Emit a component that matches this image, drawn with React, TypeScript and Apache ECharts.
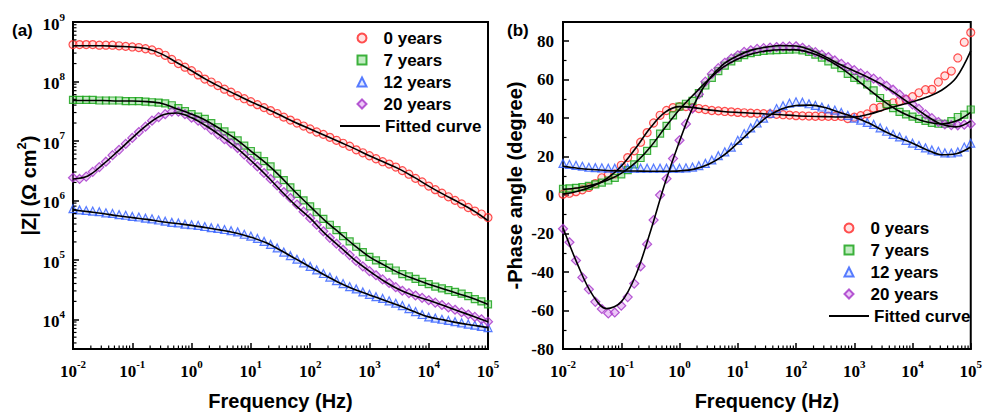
import React, { useEffect, useRef } from 'react';
import * as echarts from 'echarts';

// ---------- data ----------
const freq = [
  0.01, 0.0129, 0.0167, 0.0215, 0.0278, 0.0359, 0.0464, 0.0599, 0.0774,
  0.1, 0.129, 0.167, 0.215, 0.278, 0.359, 0.464, 0.599, 0.774,
  1, 1.29, 1.67, 2.15, 2.78, 3.59, 4.64, 5.99, 7.74,
  10, 12.9, 16.7, 21.5, 27.8, 35.9, 46.4, 59.9, 77.4,
  100, 129, 167, 215, 278, 359, 464, 599, 774,
  1000, 1290, 1670, 2150, 2780, 3590, 4640, 5990, 7740,
  10000, 12900, 16700, 21500, 27800, 35900, 46400, 59900, 77400,
  100000,
];
const fitFreq = [
  0.01, 0.0178, 0.0316, 0.0562, 0.1, 0.178, 0.316, 0.562, 1, 1.78, 3.16, 5.62,
  10, 17.8, 31.6, 56.2, 100, 178, 316, 562, 1000, 1780, 3160, 5620,
  10000, 17800, 31600, 56200, 100000,
];

const names = ['0 years', '7 years', '12 years', '20 years'];
const fitName = 'Fitted curve';

// log10 |Z| (Ω cm²), measured points
const logZ0 = [
  8.62, 8.62, 8.62, 8.62, 8.61, 8.61, 8.61, 8.60, 8.59,
  8.58, 8.57, 8.55, 8.53, 8.49, 8.44, 8.37, 8.30, 8.24,
  8.18, 8.11, 8.04, 7.99, 7.93, 7.87, 7.82, 7.76, 7.71,
  7.66, 7.61, 7.56, 7.51, 7.46, 7.40, 7.35, 7.30, 7.25,
  7.20, 7.15, 7.11, 7.06, 7.01, 6.96, 6.91, 6.85, 6.80,
  6.75, 6.70, 6.65, 6.61, 6.56, 6.50, 6.44, 6.37, 6.31,
  6.24, 6.18, 6.12, 6.06, 6.00, 5.94, 5.88, 5.82, 5.77,
  5.71,
];
const logZ7 = [
  7.69, 7.69, 7.69, 7.69, 7.68, 7.68, 7.68, 7.68, 7.67,
  7.67, 7.67, 7.66, 7.65, 7.645, 7.63, 7.60, 7.55, 7.50,
  7.45, 7.41, 7.37, 7.30, 7.23, 7.16, 7.09, 7.01, 6.92,
  6.83, 6.75, 6.66, 6.57, 6.45, 6.34, 6.22, 6.11, 6.00,
  5.90, 5.80, 5.69, 5.59, 5.50, 5.40, 5.31, 5.22, 5.13,
  5.05, 4.99, 4.93, 4.87, 4.82, 4.76, 4.72, 4.68, 4.63,
  4.59, 4.55, 4.52, 4.49, 4.46, 4.43, 4.39, 4.34, 4.30,
  4.25,
];
const logZ12 = [
  5.86, 5.84, 5.83, 5.82, 5.81, 5.79, 5.78, 5.76, 5.75,
  5.73, 5.72, 5.70, 5.69, 5.67, 5.65, 5.63, 5.62, 5.60,
  5.59, 5.58, 5.56, 5.54, 5.53, 5.51, 5.49, 5.47, 5.43,
  5.40, 5.36, 5.31, 5.26, 5.20, 5.13, 5.07, 5.01, 4.95,
  4.89, 4.83, 4.77, 4.71, 4.65, 4.60, 4.55, 4.51, 4.46,
  4.42, 4.38, 4.35, 4.31, 4.27, 4.23, 4.18, 4.13, 4.08,
  4.04, 4.02, 4.00, 3.98, 3.96, 3.94, 3.92, 3.90, 3.88,
  3.86,
];
const logZ20 = [
  6.38, 6.36, 6.40, 6.48, 6.56, 6.65, 6.76, 6.85, 6.95,
  7.05, 7.15, 7.24, 7.34, 7.40, 7.45, 7.49, 7.49, 7.45,
  7.39, 7.34, 7.27, 7.19, 7.11, 7.03, 6.96, 6.88, 6.77,
  6.67, 6.57, 6.46, 6.36, 6.25, 6.14, 6.04, 5.93, 5.81,
  5.70, 5.59, 5.48, 5.37, 5.27, 5.17, 5.08, 4.98, 4.89,
  4.81, 4.74, 4.67, 4.61, 4.54, 4.48, 4.44, 4.40, 4.36,
  4.32, 4.28, 4.24, 4.20, 4.16, 4.12, 4.08, 4.04, 4.00,
  3.96,
];

// -phase angle (degree), measured points
const phase0 = [
  0.5, 1.0, 1.8, 2.8, 4.0, 6.0, 9.0, 10.5, 11.0,
  15.5, 19.5, 23.0, 27.5, 32.5, 37.5, 41.5, 44.0, 45.5,
  46.0, 46.0, 45.5, 45.0, 44.5, 44.0, 43.8, 43.5, 43.3,
  43.0, 42.8, 42.6, 42.5, 42.3, 42.2, 42.0, 41.8, 41.6,
  41.3, 41.2, 41.1, 41.0, 41.0, 41.0, 40.9, 41.0, 39.8,
  40.5, 41.3, 42.2, 45.2, 45.7, 47.0, 48.0, 48.9, 49.7,
  51.2, 53.2, 54.8, 55.0, 58.8, 62.0, 64.5, 71.3, 79.5,
  84.5,
];
const phase7 = [
  3.3, 3.5, 3.8, 4.2, 4.8, 5.6, 6.5, 7.6, 9.0,
  10.8, 13.0, 16.0, 19.3, 23.0, 27.0, 32.0, 36.0, 41.5,
  46.0, 47.5, 49.0, 53.0, 57.0, 61.0, 64.5, 67.3, 69.5,
  71.5, 72.8, 73.8, 74.5, 75.0, 75.2, 75.4, 75.5, 75.6,
  75.7, 75.3, 74.5, 73.0, 71.5, 69.5, 67.8, 66.0, 63.0,
  61.0, 59.8, 57.5, 54.5, 50.5, 47.3, 45.2, 43.3, 42.0,
  40.8, 39.6, 38.6, 37.6, 37.1, 37.1, 38.5, 40.6, 41.8,
  44.5,
];
const phase12 = [
  16.5, 16.0, 15.5, 15.0, 14.5, 14.3, 14.2, 14.0, 14.0,
  14.0, 14.0, 14.0, 14.0, 14.0, 14.0, 14.0, 14.0, 14.0,
  14.0, 14.2, 14.6, 15.3, 16.5, 18.3, 20.5, 22.5, 25.0,
  28.5, 32.0, 35.0, 37.5, 40.0, 42.5, 45.0, 46.5, 47.8,
  48.5, 48.3, 47.5, 46.7, 45.8, 44.8, 44.2, 43.0, 41.5,
  40.0, 39.0, 37.8, 36.8, 35.0, 33.2, 31.6, 30.3, 28.5,
  27.0, 25.8, 24.6, 23.5, 22.8, 22.0, 21.9, 22.5, 25.0,
  27.0,
];
const phase20 = [
  -17.5, -24.5, -34.0, -42.8, -49.0, -55.5, -59.2, -61.5, -61.0,
  -57.5, -53.0, -46.0, -37.0, -25.5, -13.0, 0.0, 8.5, 19.0,
  28.5, 37.0, 45.0, 52.5, 59.0, 63.0, 66.0, 68.8, 71.0,
  72.7, 74.5, 75.3, 76.0, 76.4, 76.7, 77.0, 77.2, 77.3,
  77.4, 76.6, 75.5, 74.3, 73.0, 71.8, 70.0, 68.3, 66.6,
  65.0, 63.3, 62.0, 60.6, 59.0, 56.8, 54.8, 52.3, 49.8,
  47.2, 44.8, 42.0, 40.0, 38.0, 36.8, 36.4, 36.3, 36.6,
  37.0,
];

// fitted curves
const fitLogZ0 = [8.60, 8.60, 8.60, 8.59, 8.58, 8.55, 8.46, 8.32, 8.18, 8.03, 7.90, 7.78, 7.66, 7.55, 7.43, 7.31, 7.20, 7.09, 6.98, 6.87, 6.75, 6.64, 6.53, 6.39, 6.24, 6.10, 5.97, 5.83, 5.66];
const fitLogZ7 = [7.68, 7.68, 7.68, 7.67, 7.67, 7.66, 7.63, 7.54, 7.45, 7.34, 7.19, 7.03, 6.83, 6.63, 6.40, 6.14, 5.90, 5.66, 5.45, 5.24, 5.05, 4.91, 4.78, 4.68, 4.59, 4.51, 4.43, 4.35, 4.25];
const fitLogZ12 = [5.84, 5.81, 5.78, 5.74, 5.71, 5.68, 5.64, 5.61, 5.58, 5.54, 5.50, 5.45, 5.38, 5.29, 5.16, 5.02, 4.88, 4.74, 4.61, 4.50, 4.41, 4.32, 4.23, 4.13, 4.04, 3.99, 3.94, 3.90, 3.86];
const fitLogZ20 = [6.36, 6.41, 6.60, 6.82, 7.05, 7.27, 7.43, 7.47, 7.39, 7.25, 7.08, 6.89, 6.67, 6.43, 6.17, 5.92, 5.70, 5.44, 5.22, 5.00, 4.81, 4.64, 4.50, 4.40, 4.32, 4.23, 4.14, 4.05, 3.96];

const fitPhase0 = [0.5, 2.0, 4.5, 8.5, 15.0, 24.5, 35.0, 43.0, 46.0, 45.5, 44.3, 43.5, 43.0, 42.6, 42.2, 41.8, 41.3, 41.0, 40.8, 40.6, 40.6, 42.0, 44.3, 46.5, 48.5, 51.0, 54.5, 61.0, 75.0];
const fitPhase7 = [3.0, 3.7, 5.2, 7.6, 11.3, 17.0, 25.0, 35.0, 44.5, 52.5, 60.0, 66.5, 70.8, 73.5, 75.0, 75.6, 75.5, 74.0, 71.0, 66.5, 61.0, 55.0, 49.0, 44.0, 40.5, 38.0, 37.0, 38.5, 43.0];
const fitPhase12 = [15.0, 14.0, 13.3, 12.8, 12.6, 12.5, 12.4, 12.4, 12.6, 13.5, 16.0, 20.5, 27.0, 34.0, 40.5, 44.8, 46.6, 46.8, 45.5, 43.0, 40.5, 37.5, 33.5, 30.0, 27.0, 23.5, 21.0, 21.5, 25.0];
const fitPhase20 = [-17.0, -36.0, -51.5, -59.0, -55.5, -41.5, -19.0, 6.0, 28.0, 47.0, 60.0, 68.0, 72.5, 75.5, 77.0, 77.8, 77.5, 75.5, 72.0, 68.0, 64.5, 61.0, 57.0, 52.0, 46.5, 41.0, 36.8, 35.5, 38.5];

// axis ranges
const F_MIN = 0.01;
const F_MAX = 100000;
const Z_MIN = Math.pow(10, 3.5);
const Z_MAX = 1e9;
const P_MIN = -80;
const P_MAX = 90;

// ---------- styling ----------
const markerStyles = [
  { symbol: 'circle', size: 8, fill: 'rgba(255,150,150,0.35)', stroke: '#ff2424' },
  { symbol: 'rect', size: 7, fill: 'rgba(90,200,90,0.45)', stroke: '#12a012' },
  { symbol: 'triangle', size: 8, fill: 'rgba(130,160,255,0.3)', stroke: '#2f5cff' },
  { symbol: 'diamond', size: 9, fill: 'rgba(210,120,235,0.5)', stroke: '#a431c8' },
];

const SERIF = '"Liberation Serif", "Times New Roman", serif';
const SANS = '"Liberation Sans", Arial, sans-serif';

const tickRich = {
  b: { fontFamily: SERIF, fontWeight: 'bold', fontSize: 17, color: '#000', lineHeight: 22, verticalAlign: 'bottom' },
  s: { fontFamily: SERIF, fontWeight: 'bold', fontSize: 11, color: '#000', lineHeight: 10, verticalAlign: 'top' },
};

const powLabel = (v: number) => {
  const lg = Math.log10(v);
  const e = Math.round(lg);
  if (Math.abs(lg - e) > 1e-6) return '';
  return `{b|10}{s|${e}}`;
};

const minorMantissas = [2, 3, 4, 5, 6, 7, 8, 9];
const decadesX = [-2, -1, 0, 1, 2, 3, 4];
const decadesZ = [3, 4, 5, 6, 7, 8];

function buildOption() {
  const minorXTicks = decadesX.flatMap((d) => minorMantissas.map((m) => m * Math.pow(10, d)));
  const minorZTicks = decadesZ
    .flatMap((d) => minorMantissas.map((m) => m * Math.pow(10, d)))
    .filter((v) => v > Z_MIN && v < Z_MAX);

  const logZ = [logZ0, logZ7, logZ12, logZ20];
  const fitLogZ = [fitLogZ0, fitLogZ7, fitLogZ12, fitLogZ20];
  const phase = [phase0, phase7, phase12, phase20];
  const fitPhase = [fitPhase0, fitPhase7, fitPhase12, fitPhase20];

  const series: any[] = [];
  names.forEach((name, i) => {
    const st = markerStyles[i];
    const common = {
      type: 'scatter',
      name,
      symbol: st.symbol,
      symbolSize: st.size,
      symbolKeepAspect: true,
      itemStyle: { color: st.fill, borderColor: st.stroke, borderWidth: 1.2 },
      z: 2,
      silent: true,
    };
    series.push({ ...common, xAxisIndex: 0, yAxisIndex: 0, data: freq.map((f, k) => [f, Math.pow(10, logZ[i][k])]) });
    series.push({ ...common, xAxisIndex: 1, yAxisIndex: 1, data: freq.map((f, k) => [f, phase[i][k]]) });
  });
  names.forEach((_, i) => {
    const common = {
      type: 'line',
      name: fitName,
      symbol: 'none',
      showSymbol: false,
      smooth: 0.35,
      lineStyle: { color: '#000', width: 1.6 },
      itemStyle: { color: '#000' },
      z: 3,
      silent: true,
    };
    series.push({ ...common, xAxisIndex: 0, yAxisIndex: 0, data: fitFreq.map((f, k) => [f, Math.pow(10, fitLogZ[i][k])]) });
    series.push({ ...common, xAxisIndex: 1, yAxisIndex: 1, data: fitFreq.map((f, k) => [f, fitPhase[i][k]]) });
  });

  const tickLine = (x1: number, y1: number, x2: number, y2: number) => ({
    type: 'line',
    shape: { x1, y1, x2, y2 },
    style: { stroke: '#000', lineWidth: 1.2 },
  });

  // log minor ticks, bottom axes
  [0, 1].forEach((g) => {
    const yBase = g === 0 ? Z_MIN : P_MIN;
    series.push({
      type: 'custom',
      xAxisIndex: g,
      yAxisIndex: g,
      silent: true,
      clip: false,
      z: 5,
      data: minorXTicks.map((v) => [v, yBase]),
      renderItem: (_p: any, api: any) => {
        const p = api.coord([api.value(0), api.value(1)]);
        return tickLine(p[0], p[1], p[0], p[1] - 3.5);
      },
    });
  });
  // log minor ticks, left |Z| axis
  series.push({
    type: 'custom',
    xAxisIndex: 0,
    yAxisIndex: 0,
    silent: true,
    clip: false,
    z: 5,
    data: minorZTicks.map((v) => [F_MIN, v]),
    renderItem: (_p: any, api: any) => {
      const p = api.coord([api.value(0), api.value(1)]);
      return tickLine(p[0], p[1], p[0] + 3.5, p[1]);
    },
  });

  const axisLine = { show: true, onZero: false, lineStyle: { color: '#000', width: 2 } };
  const axisTick = { show: true, inside: true, length: 6, lineStyle: { color: '#000', width: 1.5 } };
  const titleStyle = { fontFamily: SANS, fontWeight: 'bold', fontSize: 20, color: '#000' };

  const xAxis = [0, 1].map((g) => ({
    type: 'log',
    logBase: 10,
    gridIndex: g,
    min: F_MIN,
    max: F_MAX,
    splitNumber: 7,
    axisLine,
    axisTick,
    splitLine: { show: false },
    axisLabel: { formatter: powLabel, rich: tickRich, margin: 9, showMinLabel: true, showMaxLabel: true },
    name: 'Frequency (Hz)',
    nameLocation: 'middle',
    nameGap: 42,
    nameTextStyle: titleStyle,
  }));

  const yAxis = [
    {
      type: 'log',
      logBase: 10,
      gridIndex: 0,
      min: Z_MIN,
      max: Z_MAX,
      splitNumber: 6,
      axisLine,
      axisTick,
      splitLine: { show: false },
      axisLabel: { formatter: powLabel, rich: tickRich, margin: 8, showMinLabel: true, showMaxLabel: true },
      name: '{t||Z| (Ω cm}{sup|2}{t|)}',
      nameLocation: 'middle',
      nameGap: 30,
      nameRotate: 90,
      nameTextStyle: {
        ...titleStyle,
        rich: {
          t: { fontFamily: SANS, fontWeight: 'bold', fontSize: 20, color: '#000', lineHeight: 24, verticalAlign: 'bottom' },
          sup: { fontFamily: SANS, fontWeight: 'bold', fontSize: 13, color: '#000', lineHeight: 12, verticalAlign: 'top' },
        },
      },
    },
    {
      type: 'value',
      gridIndex: 1,
      min: P_MIN,
      max: P_MAX,
      interval: 20,
      axisLine,
      axisTick,
      minorTick: { show: true, splitNumber: 2, length: 3.5, lineStyle: { color: '#000', width: 1.2 } },
      splitLine: { show: false },
      axisLabel: {
        fontFamily: SERIF,
        fontWeight: 'bold',
        fontSize: 17,
        color: '#000',
        margin: 9,
        showMaxLabel: false,
        formatter: (v: number) => (v > 80 ? '' : String(v)),
      },
      name: '-Phase angle (degree)',
      nameLocation: 'middle',
      nameGap: 38,
      nameRotate: 90,
      nameTextStyle: titleStyle,
    },
  ];

  const legendText = { fontFamily: SANS, fontWeight: 'bold', fontSize: 17, color: '#000', lineHeight: 17 };
  const markerLegend = {
    orient: 'vertical',
    itemWidth: 9,
    itemHeight: 9,
    itemGap: 5,
    selectedMode: false,
    symbolKeepAspect: true,
    data: names,
    textStyle: { ...legendText, padding: [0, 0, 0, 12] },
    padding: 0,
  };
  const fitLegend = {
    orient: 'vertical',
    itemWidth: 40,
    itemHeight: 2,
    selectedMode: false,
    data: [{ name: fitName, icon: 'rect', itemStyle: { color: '#000' } }],
    textStyle: legendText,
    padding: 0,
  };

  return {
    animation: false,
    backgroundColor: '#fff',
    grid: [
      { left: 73, top: 22, width: 415, height: 336, show: true, borderColor: '#000', borderWidth: 2, backgroundColor: 'transparent' },
      { left: 563, top: 22, width: 415, height: 336, show: true, borderColor: '#000', borderWidth: 2, backgroundColor: 'transparent' },
    ],
    legend: [
      { ...markerLegend, left: 356.5, top: 29.5 },
      { ...fitLegend, left: 340, top: 117.5 },
      { ...markerLegend, left: 843.5, top: 219.5 },
      { ...fitLegend, left: 829, top: 307.5 },
    ],
    xAxis,
    yAxis,
    series,
    graphic: [
      { type: 'text', left: 12, top: 22, style: { text: '(a)', font: `bold 17px ${SANS}`, fill: '#000' } },
      { type: 'text', left: 507, top: 22, style: { text: '(b)', font: `bold 17px ${SANS}`, fill: '#000' } },
    ],
  };
}

export default function App() {
  const ref = useRef<HTMLDivElement>(null);
  useEffect(() => {
    if (!ref.current) return;
    const chart = echarts.init(ref.current, null, { renderer: 'svg' });
    chart.setOption(buildOption() as any);
    return () => chart.dispose();
  }, []);
  return (
    <div
      ref={ref}
      style={{ position: 'fixed', left: 0, top: 0, width: 985, height: 416, background: '#fff' }}
    />
  );
}
